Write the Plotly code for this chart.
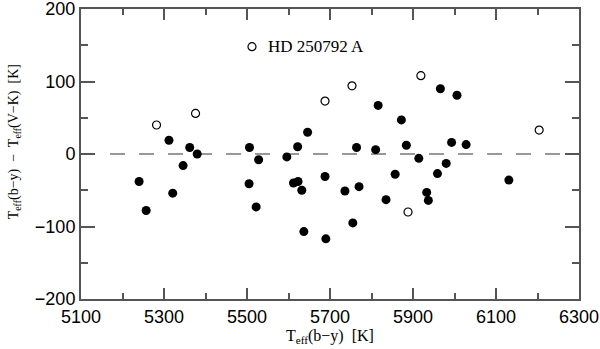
import plotly.graph_objects as go

# ---------- Data ----------

# filled symbols
teff_by_filled = [5240, 5257, 5312, 5321, 5346, 5362, 5380, 5505, 5506, 5522,
                  5528, 5596, 5612, 5622, 5623, 5632, 5637, 5646, 5688, 5690,
                  5736, 5755, 5764, 5770, 5810, 5816, 5835, 5857, 5872, 5884,
                  5914, 5933, 5937, 5959, 5966, 5980, 5993, 6006, 6028, 6131]
dteff_filled = [-38, -78, 19, -54, -16, 9, 0, -41, 9, -73,
                -8, -4, -40, 10, -38, -50, -107, 30, -31, -117,
                -51, -95, 9, -45, 6, 67, -63, -28, 47, 12,
                -6, -53, -64, -27, 90, -13, 16, 81, 13, -36]

# open symbols
teff_by_open = [5282, 5376, 5512, 5688, 5753, 5888, 5919, 6204]
dteff_open = [40, 56, 148, 73, 94, -80, 108, 33]

label_text = 'HD 250792 A'
label_x = 5545
label_y = 148

x_title = 'T<sub>eff</sub>(b\u2212y)  [K]'
y_title = 'T<sub>eff</sub>(b\u2212y)  \u2212  T<sub>eff</sub>(V\u2212K)  [K]'

SERIF = 'Liberation Serif, Times New Roman, serif'
SANS = 'Liberation Sans, Arial, sans-serif'
AXIS_COL = '#555555'

fig = go.Figure()

fig.add_trace(go.Scatter(
    x=teff_by_filled, y=dteff_filled, mode='markers',
    marker=dict(size=9, color='black', line=dict(width=0)),
    showlegend=False
))

fig.add_trace(go.Scatter(
    x=teff_by_open, y=dteff_open, mode='markers',
    marker=dict(size=8, color='white', line=dict(width=1.2, color='black')),
    showlegend=False
))

# zero line
fig.add_shape(
    type='line', xref='x', yref='y',
    x0=5170, x1=6300, y0=0, y1=0,
    line=dict(color='#777777', width=1.5, dash='15px,14px'),
    layer='below'
)

fig.add_annotation(
    x=label_x, y=label_y, text=label_text, showarrow=False,
    xanchor='left', yanchor='middle',
    font=dict(family=SERIF, size=17, color='black')
)

# axis titles placed as annotations
fig.add_annotation(
    x=0.5, y=-0.13, xref='paper', yref='paper', text=x_title,
    showarrow=False, xanchor='center', yanchor='middle',
    font=dict(family=SERIF, size=16, color='black')
)
fig.add_annotation(
    x=-0.133, y=0.543, xref='paper', yref='paper', text=y_title,
    showarrow=False, xanchor='center', yanchor='middle', textangle=-90,
    font=dict(family=SERIF, size=14, color='black')
)

fig.update_xaxes(
    range=[5100, 6300], tick0=5100, dtick=200,
    ticks='inside', ticklen=11, tickwidth=1.5, tickcolor=AXIS_COL,
    minor=dict(ticks='inside', dtick=100, tick0=5100, ticklen=6, tickcolor=AXIS_COL),
    showline=True, linecolor=AXIS_COL, linewidth=2, mirror='allticks',
    showgrid=False, zeroline=False, automargin=False,
    ticklabeloverflow='allow',
    tickfont=dict(family=SANS, size=18, color='black')
)

fig.update_yaxes(
    range=[-200, 200], tick0=-200, dtick=100,
    ticks='inside', ticklen=14, tickwidth=1.5, tickcolor=AXIS_COL,
    minor=dict(ticks='inside', dtick=50, ticklen=7, tickcolor=AXIS_COL),
    showline=True, linecolor=AXIS_COL, linewidth=2, mirror='allticks',
    showgrid=False, zeroline=False, automargin=False,
    ticklabeloverflow='allow',
    tickfont=dict(family=SANS, size=18, color='black'),
    ticklabelstandoff=0
)

fig.update_layout(
    width=600, height=349,
    margin=dict(l=81, r=21, t=9, b=50),
    plot_bgcolor='white', paper_bgcolor='white'
)

# the page's default body margin would shift the figure
fig.write_html('out.html', config={'displayModeBar': False},
               post_script="document.body.style.margin='0';")
